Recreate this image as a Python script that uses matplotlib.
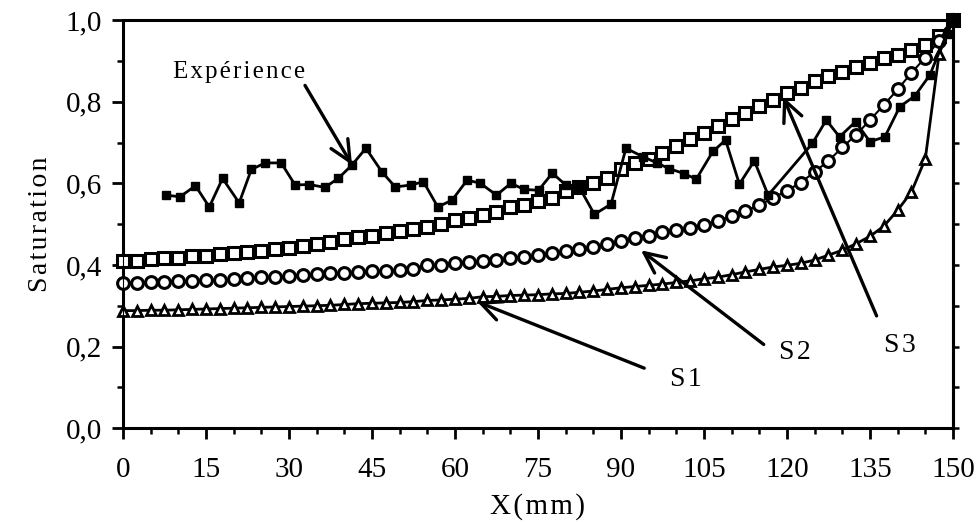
import numpy as np
import matplotlib
matplotlib.use('Agg')
import matplotlib.pyplot as plt
from matplotlib.ticker import MultipleLocator

plt.rcParams['font.family'] = ['Liberation Serif', 'DejaVu Serif']

# Position le long de l'échantillon (mm), pas de 2,5 mm pour les simulations
x_sim = np.linspace(0, 150, 61)

s1 = [0.288, 0.288, 0.289, 0.289, 0.290, 0.291, 0.292, 0.293, 0.294, 0.295,
      0.296, 0.297, 0.298, 0.299, 0.300, 0.301, 0.303, 0.305, 0.306, 0.307,
      0.308, 0.310, 0.313, 0.314, 0.316, 0.318, 0.322, 0.323, 0.325, 0.326,
      0.327, 0.329, 0.330, 0.333, 0.336, 0.340, 0.344, 0.347, 0.350, 0.353,
      0.357, 0.361, 0.366, 0.370, 0.376, 0.383, 0.389, 0.395, 0.399, 0.404,
      0.412, 0.424, 0.436, 0.452, 0.470, 0.495, 0.534, 0.579, 0.660, 0.918,
      1.000]

s2 = [0.356, 0.356, 0.357, 0.359, 0.360, 0.361, 0.362, 0.363, 0.365, 0.368,
      0.370, 0.371, 0.373, 0.376, 0.377, 0.379, 0.381, 0.383, 0.386, 0.386,
      0.388, 0.391, 0.399, 0.401, 0.404, 0.406, 0.409, 0.412, 0.416, 0.420,
      0.424, 0.428, 0.433, 0.438, 0.443, 0.451, 0.458, 0.466, 0.472, 0.481,
      0.485, 0.490, 0.499, 0.507, 0.520, 0.532, 0.547, 0.564, 0.582, 0.602,
      0.628, 0.655, 0.688, 0.719, 0.755, 0.792, 0.830, 0.871, 0.908, 0.950,
      1.000]

s3 = [0.410, 0.410, 0.415, 0.416, 0.417, 0.421, 0.423, 0.426, 0.428, 0.432,
      0.434, 0.438, 0.441, 0.447, 0.452, 0.456, 0.464, 0.468, 0.471, 0.477,
      0.482, 0.489, 0.494, 0.500, 0.510, 0.515, 0.522, 0.529, 0.541, 0.548,
      0.557, 0.565, 0.580, 0.592, 0.601, 0.614, 0.636, 0.651, 0.660, 0.674,
      0.691, 0.708, 0.723, 0.740, 0.757, 0.773, 0.790, 0.804, 0.822, 0.833,
      0.850, 0.862, 0.874, 0.884, 0.895, 0.907, 0.914, 0.926, 0.939, 0.962,
      1.000]

x_exp = [7.8, 10.3, 13.1, 15.6, 18.0, 21.0, 23.2, 25.7, 28.6, 31.1,
         33.7, 36.5, 38.9, 41.4, 43.9, 46.8, 49.2, 52.1, 54.3, 56.9,
         59.5, 62.2, 64.6, 67.5, 70.1, 72.5, 75.1, 77.6, 80.0, 82.4,
         85.2, 88.2, 90.9, 94.0, 96.5, 98.7, 101.4, 103.6, 106.6, 108.9,
         111.4, 114.1, 116.6, 124.6, 127.1, 129.5, 132.4, 135.0, 137.7, 140.4,
         143.1, 145.8, 148.9, 150.0]
y_exp = [0.571, 0.567, 0.594, 0.542, 0.612, 0.552, 0.634, 0.650, 0.650, 0.596,
         0.597, 0.590, 0.612, 0.645, 0.686, 0.628, 0.591, 0.596, 0.604, 0.542,
         0.559, 0.608, 0.600, 0.571, 0.600, 0.585, 0.583, 0.625, 0.596, 0.592,
         0.524, 0.549, 0.686, 0.665, 0.650, 0.636, 0.624, 0.610, 0.678, 0.706,
         0.598, 0.655, 0.571, 0.698, 0.755, 0.714, 0.751, 0.702, 0.714, 0.788,
         0.814, 0.865, 0.967, 1.000]

x_ticks = [0, 15, 30, 45, 60, 75, 90, 105, 120, 135, 150]
y_ticks = [0.0, 0.2, 0.4, 0.6, 0.8, 1.0]
y_tick_labels = ['0,0', '0,2', '0,4', '0,6', '0,8', '1,0']

fig = plt.figure(figsize=(9.76, 5.24), dpi=100)
ax = fig.add_axes([0.126, 0.183, 0.8504, 0.7786])

noir = 'black'
ax.plot(x_sim, s3, color=noir, lw=1.5, marker='s', ms=8.5, mfc='white',
        mec=noir, mew=2.2, clip_on=False, zorder=3)
ax.plot(x_sim, s2, color=noir, lw=1.5, marker='o', ms=8.5, mfc='white',
        mec=noir, mew=2.2, clip_on=False, zorder=3)
ax.plot(x_sim, s1, color=noir, lw=2.0, marker='^', ms=7.5, mfc='white',
        mec=noir, mew=2.0, clip_on=False, zorder=3)
ax.plot(x_exp, y_exp, color=noir, lw=2.0, marker='s', ms=5.5, mfc=noir,
        mec=noir, clip_on=False, zorder=4)

fleche = dict(arrowstyle='->,head_length=0.75,head_width=0.35', color=noir,
              lw=2.4, shrinkA=0, shrinkB=0, mutation_scale=20)
h = '\u200a'
ax.annotate('', xy=(41.4, 0.645), xytext=(32.9, 0.84), arrowprops=fleche, zorder=5)
ax.text(21.0, 0.872, h.join('Expérience'), fontsize=18, ha='center', va='center')
ax.annotate('', xy=(64.0, 0.31), xytext=(94.2, 0.147), arrowprops=fleche, zorder=5)
ax.text(101.8, 0.12, h.join('S1'), fontsize=20, ha='center', va='center')
ax.annotate('', xy=(93.6, 0.436), xytext=(115.8, 0.205), arrowprops=fleche, zorder=5)
ax.text(121.4, 0.186, h.join('S2'), fontsize=20, ha='center', va='center')
ax.annotate('', xy=(119.3, 0.812), xytext=(136.2, 0.275), arrowprops=fleche, zorder=5)
ax.text(140.4, 0.203, h.join('S3'), fontsize=20, ha='center', va='center')

ax.set_xlim(0, 150)
ax.set_ylim(0, 1)
ax.set_xticks(x_ticks)
ax.set_yticks(y_ticks)
ax.set_yticklabels(y_tick_labels)
ax.xaxis.set_minor_locator(MultipleLocator(5))
ax.yaxis.set_minor_locator(MultipleLocator(0.1))
ax.tick_params(which='major', direction='out', length=8, width=2.0,
               labelsize=21, colors=noir, pad=7)
ax.tick_params(which='minor', direction='out', length=4.5, width=1.8)
ax.tick_params(axis='x', pad=13)
for sp in ax.spines.values():
    sp.set_linewidth(2.2)

# graduations du côté droit, sans étiquettes
ax_d = ax.twinx()
ax_d.set_ylim(0, 1)
ax_d.yaxis.set_major_locator(MultipleLocator(0.1))
ax_d.tick_params(axis='y', direction='out', length=4.5, width=1.8, labelright=False)
ax_d.spines['right'].set_linewidth(2.2)

ax.set_xlabel(h.join('X(mm)'), fontsize=21, labelpad=7)
ax.set_ylabel(h.join('Saturation'), fontsize=20, labelpad=9)

fig.savefig('out.png', dpi=100)
